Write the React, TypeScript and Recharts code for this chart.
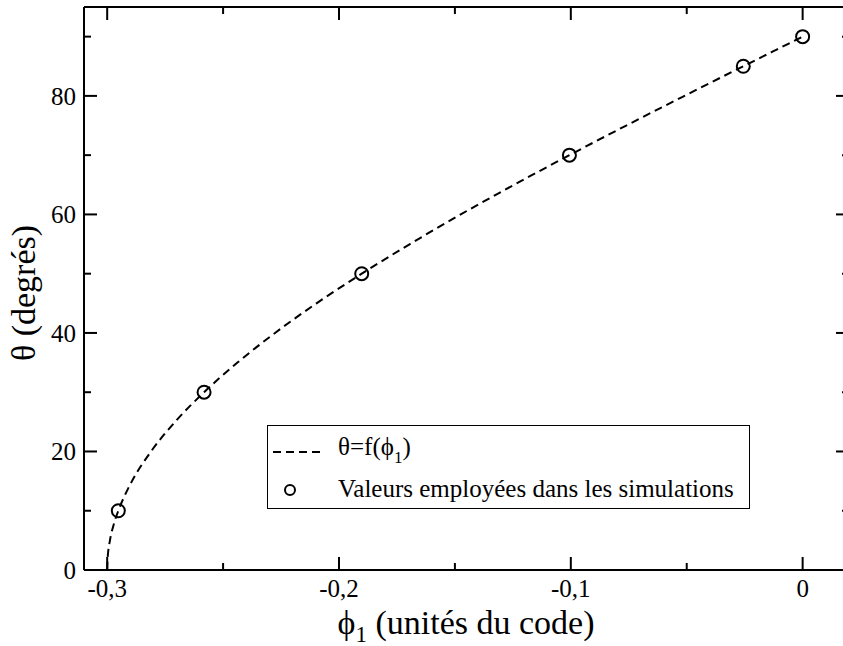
import React from 'react';
import { ComposedChart, Line, Scatter, XAxis, YAxis, Legend } from 'recharts';

// courbe theta = f(phi1)
const curvePhi = [
  -0.3, -0.2998, -0.2988, -0.2973, -0.2952, -0.2925, -0.2893, -0.2811, -0.2707, -0.2582,
  -0.2438, -0.2276, -0.2097, -0.1902, -0.1694, -0.1475, -0.1245, -0.1006, -0.0761, -0.051,
  -0.0256, -0.0128, 0,
];
const curveTheta = [
  0, 2, 5, 7.5, 10, 12.5, 15, 20, 25, 30,
  35, 40, 45, 50, 55, 60, 65, 70, 75, 80,
  85, 87.5, 90,
];

// valeurs employées dans les simulations
const simPhi = [-0.2952, -0.2582, -0.1902, -0.1006, -0.0256, 0];
const simTheta = [10, 30, 50, 70, 85, 90];

const xTicks = [-0.3, -0.25, -0.2, -0.15, -0.1, -0.05, 0];
const yTicks = [0, 10, 20, 30, 40, 50, 60, 70, 80, 90];

const curveData = curvePhi.map((phi, i) => ({ phi, theta: curveTheta[i] }));
const simData = simPhi.map((phi, i) => ({ phi, theta: simTheta[i] }));

const FONT = '"Liberation Serif", "Times New Roman", Times, serif';
const txt = { fontFamily: FONT, fill: '#000' };
const MAJOR = 13;
const MINOR = 7;

const isMajorX = (v: number) => Math.abs(v * 10 - Math.round(v * 10)) < 1e-6;
const isMajorY = (v: number) => v % 20 === 0;
const fmtX = (v: number) => (Math.abs(v) < 1e-9 ? '0' : v.toFixed(1).replace('.', ','));

/* ── ticks vers l'intérieur ─────────────────────── */

const BottomTick = (p: any) => {
  const { x, y, payload } = p;
  const major = isMajorX(payload.value);
  return (
    <g>
      <line x1={x} y1={y} x2={x} y2={y - (major ? MAJOR : MINOR)} stroke="#000" strokeWidth={2} />
      {major && (
        <text x={x} y={y + 27} textAnchor="middle" style={{ ...txt, fontSize: 25 }}>
          {fmtX(payload.value)}
        </text>
      )}
    </g>
  );
};

const TopTick = (p: any) => {
  const { x, y, payload } = p;
  const major = isMajorX(payload.value);
  return <line x1={x} y1={y} x2={x} y2={y + (major ? MAJOR : MINOR)} stroke="#000" strokeWidth={2} />;
};

const LeftTick = (p: any) => {
  const { x, y, payload } = p;
  const major = isMajorY(payload.value);
  return (
    <g>
      <line x1={x} y1={y} x2={x + (major ? MAJOR : MINOR)} y2={y} stroke="#000" strokeWidth={2} />
      {major && (
        <text x={x - 8} y={y + 9} textAnchor="end" style={{ ...txt, fontSize: 25 }}>
          {payload.value}
        </text>
      )}
    </g>
  );
};

const RightTick = (p: any) => {
  const { x, y, payload } = p;
  const major = isMajorY(payload.value);
  return <line x1={x} y1={y} x2={x - (major ? MAJOR : MINOR)} y2={y} stroke="#000" strokeWidth={2} />;
};

const SimCircle = (p: any) => (
  <circle cx={p.cx} cy={p.cy} r={6.5} fill="none" stroke="#000" strokeWidth={2} />
);

/* ── titres et légende ──────────────────────────── */

const XTitle = () => (
  <text x={466} y={634} textAnchor="middle" style={{ ...txt, fontSize: 34 }}>
    ϕ<tspan style={{ fontSize: 23 }} dy={8}>1</tspan>
    <tspan dy={-8}> (unités du code)</tspan>
  </text>
);

const YTitle = () => (
  <text
    x={35}
    y={293}
    transform="rotate(-90, 35, 293)"
    textAnchor="middle"
    style={{ ...txt, fontSize: 34 }}
  >
    θ (degrés)
  </text>
);

const renderLegend = () => (
  <svg width={483} height={84} style={{ display: 'block' }}>
    <rect x={0.5} y={0.5} width={482} height={83} fill="#fff" stroke="#000" strokeWidth={1} />
    <line x1={6} y1={27} x2={56} y2={27} stroke="#000" strokeWidth={2} strokeDasharray="8 5" />
    <text x={71} y={30} style={{ ...txt, fontSize: 25 }}>
      θ=f(ϕ<tspan style={{ fontSize: 17 }} dy={8}>1</tspan>
      <tspan dy={-8}>)</tspan>
    </text>
    <circle cx={23} cy={65} r={5} fill="none" stroke="#000" strokeWidth={2} />
    <text x={71} y={72} style={{ ...txt, fontSize: 25 }}>
      Valeurs employées dans les simulations
    </text>
  </svg>
);

export default function App() {
  return (
    <div
      style={{
        position: 'absolute',
        left: 0,
        top: 0,
        width: 843,
        height: 646,
        overflow: 'hidden',
        background: '#fff',
        fontFamily: FONT,
      }}
    >
      <ComposedChart width={870} height={646} margin={{ top: 0, right: 0, bottom: 0, left: 0 }}>
        <XAxis
          dataKey="phi"
          type="number"
          domain={[-0.31, 0.02]}
          allowDataOverflow
          ticks={xTicks}
          interval={0}
          height={76}
          tickSize={0}
          tickMargin={0}
          tickLine={false}
          tick={BottomTick}
          axisLine={{ stroke: '#000', strokeWidth: 2 }}
          label={XTitle}
        />
        <XAxis
          xAxisId="top"
          orientation="top"
          dataKey="phi"
          type="number"
          domain={[-0.31, 0.02]}
          allowDataOverflow
          ticks={xTicks}
          interval={0}
          height={7}
          tickSize={0}
          tickMargin={0}
          tickLine={false}
          tick={TopTick}
          axisLine={{ stroke: '#000', strokeWidth: 2 }}
        />
        <YAxis
          type="number"
          domain={[0, 95]}
          allowDataOverflow
          ticks={yTicks}
          interval={0}
          width={84}
          tickSize={0}
          tickMargin={0}
          tickLine={false}
          tick={LeftTick}
          axisLine={{ stroke: '#000', strokeWidth: 2 }}
          label={YTitle}
        />
        <YAxis
          yAxisId="right"
          orientation="right"
          type="number"
          domain={[0, 95]}
          allowDataOverflow
          ticks={yTicks}
          interval={0}
          width={21}
          tickSize={0}
          tickMargin={0}
          tickLine={false}
          tick={RightTick}
          axisLine={{ stroke: '#000', strokeWidth: 2 }}
        />

        <Legend
          layout="horizontal"
          verticalAlign="middle"
          align="center"
          content={renderLegend}
          wrapperStyle={{ left: 267, top: 425, width: 483, height: 84 }}
        />

        {/* série invisible pour les axes haut / droite */}
        <Line
          data={curveData}
          dataKey="theta"
          xAxisId="top"
          yAxisId="right"
          stroke="none"
          dot={false}
          activeDot={false}
          isAnimationActive={false}
          legendType="none"
        />
        <Line
          data={curveData}
          dataKey="theta"
          type="monotone"
          stroke="#000"
          strokeWidth={2}
          strokeDasharray="8 5"
          dot={false}
          activeDot={false}
          isAnimationActive={false}
        />
        <Scatter data={simData} dataKey="theta" shape={SimCircle} isAnimationActive={false} />
      </ComposedChart>
    </div>
  );
}
